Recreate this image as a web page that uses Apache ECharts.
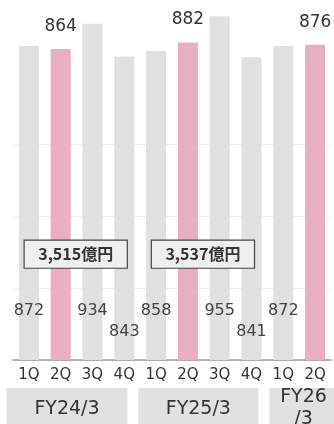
<!DOCTYPE html>
<html>
<head>
<meta charset="utf-8">
<script src="https://cdn.jsdelivr.net/npm/echarts@6/dist/echarts.min.js"></script>
<style>html,body{margin:0;padding:0;background:#fff;}#c{width:334px;height:424px;}</style>
</head>
<body>
<div id="c"></div>
<script>
const quarters = ['1Q','2Q','3Q','4Q','1Q','2Q','3Q','4Q','1Q','2Q'];
const fiscalYears = ['FY24/3','FY24/3','FY24/3','FY24/3','FY25/3','FY25/3','FY25/3','FY25/3','FY26/3','FY26/3'];
const values = [872,864,934,843,858,882,955,841,872,876];
const annualTotals = ['3,515億円','3,537億円'];
const annualAnchorIndex = [1,5];
const annualAnchorValue = [294,294];
const groupLabels = ['FY24/3','FY25/3','FY26\n/3'];

const categories = quarters.map((q,i)=>fiscalYears[i]+'|'+q);
const PINK = '#eaaec2', GRAY = '#e0e0e0';
const numFont = 'DejaVu Sans';

const data = values.map((v,i)=>{
  const hi = quarters[i]==='2Q';
  const low = quarters[i]==='4Q';
  return {
    value: v,
    itemStyle: {color: hi ? PINK : GRAY},
    label: hi ? {show:true, position:'top', distance:14, fontSize:17, color:'#333', fontFamily:numFont}
              : {show:true, position:'insideBottom', distance: low ? 20 : 41.5, fontSize:16, color:'#444', fontFamily:numFont}
  };
});

const chart = echarts.init(document.getElementById('c'), null, {renderer:'canvas'});
const groupBoxes = [[6.5,121],[138.3,120],[269.3,75]];
const graphics = [];
groupLabels.forEach((g,i)=>{
  const [x,w] = groupBoxes[i];
  graphics.push({type:'rect', shape:{x:x, y:388, width:w, height:40}, style:{fill:'#e1e1e1'}, silent:true});
  const multi = g.indexOf('\n')>=0;
  graphics.push({type:'text', x: i===2 ? 303.5 : x + w/2, y: multi ? 386.5 : 409.5,
    style:{text:g, fill:'#333', font:'19px "DejaVu Sans"', textAlign:'center', textVerticalAlign: multi ? 'top' : 'middle', lineHeight:22}, silent:true});
});

chart.setOption({
  animation:false,
  grid:{left:13, right:3, top:0, bottom:64},
  xAxis:{
    type:'category', data:categories,
    axisLine:{lineStyle:{color:'#9a9a9a', width:1.5}},
    axisTick:{show:false},
    axisLabel:{interval:0, margin:8, fontSize:15, color:'#333', fontFamily:numFont,
      formatter:(v)=>v.split('|')[1]}
  },
  yAxis:{
    type:'value', min:0, max:1000, interval:200,
    axisLabel:{show:false}, axisLine:{show:false}, axisTick:{show:false},
    splitLine:{lineStyle:{color:['#eeeeee','#eeeeee','#eeeeee','#eeeeee','rgba(0,0,0,0)','rgba(0,0,0,0)'], width:1}}
  },
  series:[{
    type:'bar', data:data, barWidth:20,
    markPoint:{
      symbol:'circle', symbolSize:1, symbolOffset:[15,0],
      itemStyle:{color:'rgba(0,0,0,0)'},
      label:{show:true, position:'inside', color:'#333', fontSize:16, fontWeight:'bold', fontFamily:'"Noto Sans CJK JP"',
        backgroundColor:'#efefef', borderColor:'#444', borderWidth:1.2,
        width:102, height:27, lineHeight:27, align:'center', verticalAlign:'middle', padding:0,
        formatter:(p)=>p.name},
      data: annualTotals.map((t,i)=>({name:t, coord:[annualAnchorIndex[i], annualAnchorValue[i]]}))
    }
  }],
  graphic: graphics
});
</script>
</body>
</html>
